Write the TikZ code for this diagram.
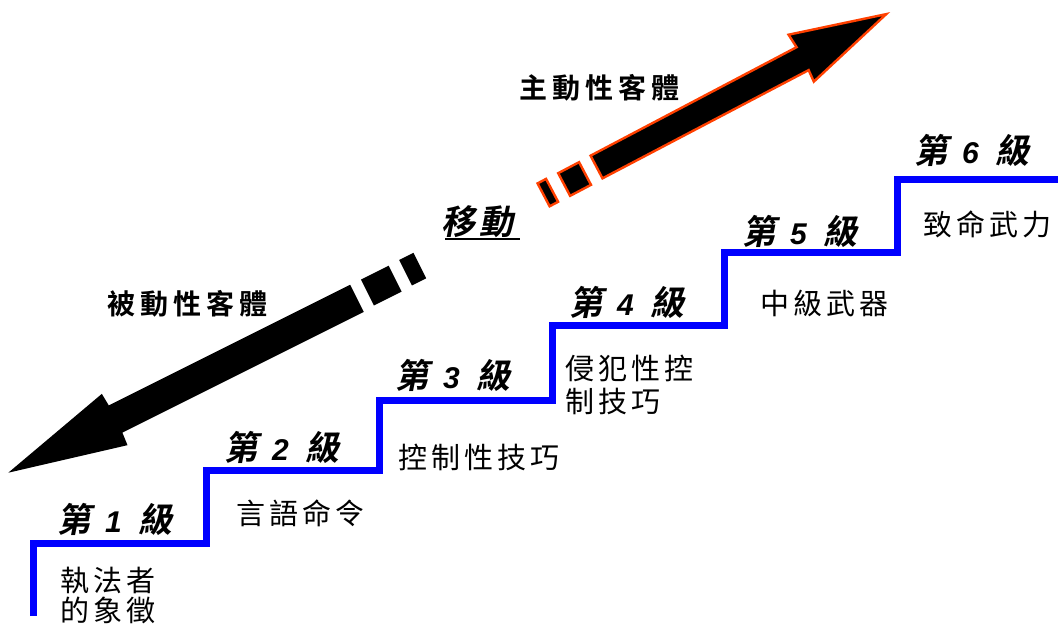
\documentclass[tikz,border=0pt]{standalone}
\usepackage{fontspec}
\newfontfamily\cjkr{Noto Sans CJK TC}[LetterSpace=14]
\newfontfamily\cjkb{Noto Sans CJK TC Bold}[LetterSpace=18]
\newfontfamily\cjkbi{Noto Sans CJK TC Bold}[FakeSlant=0.2]
\newfontfamily\cjkbis{Noto Sans CJK TC Bold}[FakeSlant=0.2,LetterSpace=12]
\newfontfamily\arialbi{Liberation Sans Bold Italic}
\definecolor{stairblue}{RGB}{0,0,255}
\definecolor{rimred}{RGB}{255,64,0}
\newcommand\levellabel[1]{第\hspace{14pt}{\arialbi\fontsize{30}{30}\selectfont #1}\hspace{17pt}級}
\begin{document}
\begin{tikzpicture}[x=1pt,y=-1pt,
  desc/.style={font=\cjkr\fontsize{29}{30}\selectfont, anchor=west, inner sep=0pt, align=left},
  lvl/.style={font=\cjkbi\fontsize{34}{34}\selectfont, anchor=west, inner sep=0pt},
  title/.style={font=\cjkb\fontsize{28}{28}\selectfont, anchor=west, inner sep=0pt},
  stair/.style={line width=7pt, draw=stairblue, line join=miter},
  rim/.style={fill=black, draw=rimred, line width=2.4pt, line join=miter}]
\useasboundingbox (0,0) rectangle (1058,626);
\fill[white] (0,0) rectangle (1058,626);

% staircase
\draw[stair] (33,616) -- (33,543.5) -- (206.5,543.5) -- (206.5,470.5)
  -- (379.5,470.5) -- (379.5,400) -- (552,400) -- (552,325.5)
  -- (724.5,325.5) -- (724.5,252) -- (897.5,252) -- (897.5,179.5) -- (1060,179.5);

% passive arrow (down-left)
\begin{scope}[shift={(8.3,472.7)}, x={(0.894pt,0.447pt)}, y={(0.447pt,-0.894pt)}]
  \fill (0,0) -- (119,-28.7) -- (120,-15.2) -- (390,-15.2) -- (390,15.2)
        -- (120,15.2) -- (119,28.7) -- cycle;
  \fill (402,-15) -- (433,-15) -- (433,14) -- (402,14) -- cycle;
  \fill (445,-15.5) -- (461,-15.5) -- (461,13) -- (445,13) -- cycle;
\end{scope}

% active arrow (up-right)
\begin{scope}[shift={(888.3,12.7)}, x={(-0.885pt,-0.466pt)}, y={(0.466pt,-0.885pt)}]
  \filldraw[rim] (2.5,0.3) -- (98.5,-27) -- (97.2,-12.2) -- (330,-12.2) -- (330,13.4)
        -- (97.2,13.7) -- (98,26.3) -- cycle;
  \filldraw[rim] (343.2,-11.8) -- (366.8,-11.8) -- (366.8,13.8) -- (343.2,13.8) -- cycle;
  \filldraw[rim] (380.2,-12.4) -- (389.8,-12.4) -- (389.8,13.5) -- (380.2,13.5) -- cycle;
\end{scope}

% titles
\node[title] (passive) at (107,304) {被動性客體};
\node[title] (active) at (519,88) {主動性客體};
\node[anchor=west, inner sep=0pt, font=\cjkbis\fontsize{34}{34}\selectfont] (move) at (441,222) {移動};
\draw[line width=2.5pt] (445,239) -- (520,239);

% level labels
\node[lvl] (l1) at (57,519) {\levellabel{1}};
\node[lvl] (l2) at (224,447) {\levellabel{2}};
\node[lvl] (l3) at (395,375) {\levellabel{3}};
\node[lvl] (l4) at (569,302) {\levellabel{4}};
\node[lvl] (l5) at (742,231) {\levellabel{5}};
\node[lvl] (l6) at (914,150) {\levellabel{6}};

% descriptions
\node[desc] (d1) at (60,595.5) {執法者\\的象徵};
\node[desc] (d2) at (236,513) {言語命令};
\node[desc] (d3) at (398,457) {控制性技巧};
\node[desc, font=\cjkr\fontsize{29}{33}\selectfont] (d4) at (565,385) {侵犯性控\\制技巧};
\node[desc] (d5) at (760,303) {中級武器};
\node[desc] (d6) at (923,224) {致命武力};
\end{tikzpicture}
\end{document}
